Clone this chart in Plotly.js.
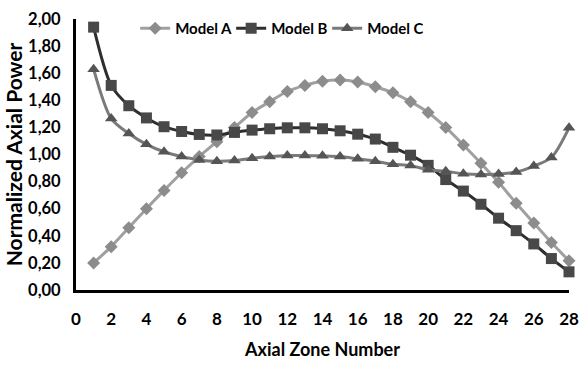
<!DOCTYPE html>
<html>
<head>
<meta charset="utf-8">
<script src="https://cdn.plot.ly/plotly-3.0.1.min.js"></script>
<style>html,body{margin:0;padding:0;background:#fff}#chart{width:581px;height:365px}</style>
</head>
<body>
<div id="chart"></div>
<script>
const zones = [1,2,3,4,5,6,7,8,9,10,11,12,13,14,15,16,17,18,19,20,21,22,23,24,25,26,27,28];
const modelA = [0.20,0.32,0.46,0.60,0.735,0.865,0.985,1.095,1.20,1.31,1.39,1.465,1.51,1.54,1.55,1.535,1.50,1.455,1.39,1.31,1.20,1.07,0.935,0.795,0.64,0.495,0.35,0.215];
const modelB = [1.94,1.51,1.36,1.27,1.205,1.17,1.148,1.144,1.163,1.18,1.19,1.197,1.197,1.19,1.175,1.15,1.114,1.053,0.995,0.92,0.815,0.73,0.633,0.53,0.438,0.34,0.232,0.134];
const modelC = [1.63,1.265,1.155,1.075,1.02,0.985,0.96,0.95,0.955,0.973,0.985,0.993,0.993,0.99,0.985,0.968,0.95,0.928,0.918,0.888,0.876,0.858,0.852,0.856,0.871,0.915,0.978,1.197];
const seriesNames = ["Model A","Model B","Model C"];
const xTicks = [0,2,4,6,8,10,12,14,16,18,20,22,24,26,28];

const FONT = "Lato, 'Open Sans', sans-serif";
const traces = [
  {x: zones, y: modelA, name: seriesNames[0], mode: "lines+markers", cliponaxis: false,
   line: {color: "#a0a0a0", width: 3, shape: "spline", smoothing: 0.8},
   marker: {symbol: "diamond", size: 10, color: "#8c8c8c"}},
  {x: zones, y: modelB, name: seriesNames[1], mode: "lines+markers", cliponaxis: false,
   line: {color: "#2e2e2e", width: 3, shape: "spline", smoothing: 0.8},
   marker: {symbol: "square", size: 11, color: "#484848"}},
  {x: zones, y: modelC, name: seriesNames[2], mode: "lines+markers", cliponaxis: false,
   line: {color: "#7a7a7a", width: 3, shape: "spline", smoothing: 0.8},
   marker: {symbol: "triangle-up", size: 11, color: "#555555"}}
];

const layout = {
  width: 581, height: 365,
  margin: {l: 76, r: 12, t: 16, b: 75},
  paper_bgcolor: "#fff", plot_bgcolor: "#fff",
  separators: ",.",
  font: {family: FONT, color: "#000", size: 16, weight: "bold"},
  showlegend: true,
  legend: {orientation: "h", x: 0.12, xanchor: "left", y: 0.965, yanchor: "middle",
           font: {family: FONT, size: 15, color: "#000", weight: "bold"},
           bgcolor: "rgba(0,0,0,0)", itemwidth: 30, tracegroupgap: 0,
           entrywidth: 51, entrywidthmode: "pixels"},
  xaxis: {
    range: [0, 28], tickmode: "array", tickvals: xTicks, ticktext: xTicks.map(String),
    showgrid: false, zeroline: false, showline: true, linecolor: "#000", linewidth: 3,
    ticks: "", ticklabelstandoff: 12,
    tickfont: {family: FONT, size: 17, color: "#000", weight: "bold"},
    title: {text: "Axial Zone Number", font: {family: FONT, size: 18, color: "#000", weight: "bold"}, standoff: 15}
  },
  yaxis: {
    range: [0, 2], dtick: 0.2, tickformat: ".2f",
    showgrid: false, zeroline: false, showline: true, linecolor: "#000", linewidth: 3,
    ticks: "", ticklabelstandoff: 9,
    tickfont: {family: FONT, size: 16.5, color: "#000", weight: "bold"},
    title: {text: "Normalized Axial Power", font: {family: FONT, size: 21, color: "#000", weight: "bold"}, standoff: 0}
  }
};

Plotly.newPlot("chart", traces, layout, {staticPlot: true, displayModeBar: false});
</script>
</body>
</html>
